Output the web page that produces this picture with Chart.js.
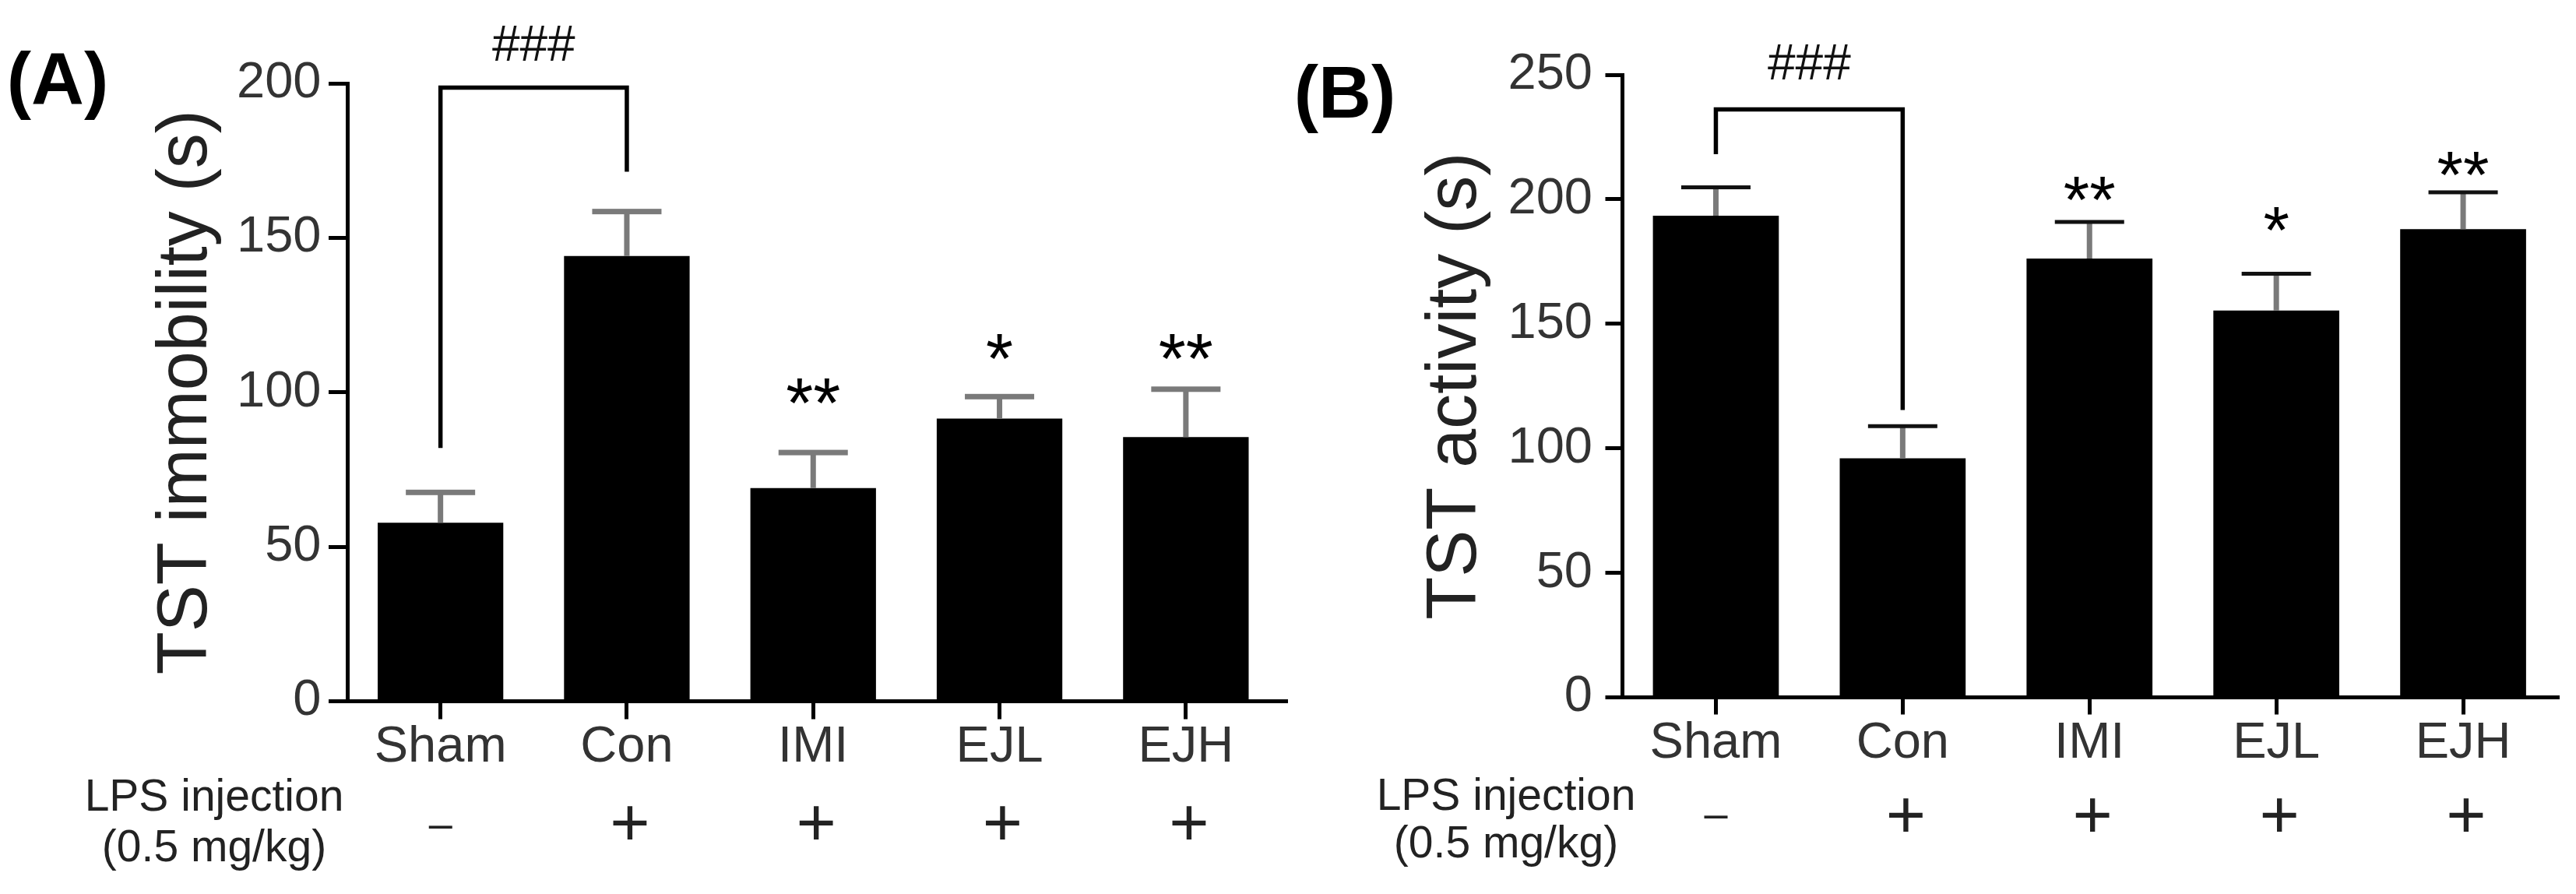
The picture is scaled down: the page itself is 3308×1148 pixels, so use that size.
<!DOCTYPE html>
<html><head><meta charset="utf-8">
<script src="https://cdn.jsdelivr.net/npm/chart.js@4.4.1/dist/chart.umd.min.js"></script>
<style>
html,body{margin:0;padding:0;background:#fff;}
#wrap{position:relative;width:3308px;height:1148px;overflow:hidden;background:#fff;}
canvas{position:absolute;top:0;}
</style></head><body>
<div id="wrap">
<canvas id="cA" width="1654" height="1148" style="left:0;width:1654px;height:1148px"></canvas>
<canvas id="cB" width="1654" height="1148" style="left:1654px;width:1654px;height:1148px"></canvas>
</div>
<script>
// ---------- data ----------
const groups = ['Sham', 'Con', 'IMI', 'EJL', 'EJH'];
const lpsSigns = ['–', '+', '+', '+', '+'];
const lpsLabel = ['LPS injection', '(0.5 mg/kg)'];

const immobilityMean = [57.8, 144.1, 69.0, 91.5, 85.5];
const immobilitySem  = [9.8, 14.4, 11.5, 7.1, 15.5];
const immobilityStars = ['', '', '**', '*', '**'];
const immobilityStarLevel = [null, null, 101.7, 116.1, 116.0];
const immobilityBracket = [0, 1];              // Sham vs Con
const immobilityBracketLevels = [82, 198.6, 171.4, 212.9]; // left end, top, right end, label
const immobilityMax = 200;

const activityMean = [193.4, 96.0, 176.2, 155.3, 188.0];
const activitySem  = [11.4, 12.9, 14.7, 14.8, 14.8];
const activityStars = ['', '', '**', '*', '**'];
const activityStarLevel = [null, null, 205.9, 193.7, 216.1];
const activityBracket = [0, 1];
const activityBracketLevels = [218.1, 236.1, 115.4, 255];
const activityMax = 250;

const FF = "'Liberation Sans', Arial, Helvetica, sans-serif";

function makePanel(id, o) {
  const deco = {
    id: 'deco' + id,
    afterDatasetsDraw(chart) {
      const ctx = chart.ctx;
      const meta = chart.getDatasetMeta(0);
      const ys = chart.scales.y;
      ctx.save();
      meta.data.forEach((bar, i) => {
        const x = bar.x;
        const yb = ys.getPixelForValue(o.means[i]);
        const yc = ys.getPixelForValue(o.means[i] + o.sems[i]);
        ctx.fillStyle = o.stemColor;
        ctx.fillRect(x - o.stemW / 2, yc, o.stemW, yb - yc);
        ctx.fillStyle = o.capColor;
        ctx.fillRect(x - o.capW / 2, yc - o.capH / 2, o.capW, o.capH);
      });
      ctx.restore();
    },
    afterDraw(chart) {
      const ctx = chart.ctx;
      const meta = chart.getDatasetMeta(0);
      const ys = chart.scales.y;
      const area = chart.chartArea;
      ctx.save();
      // x-axis line runs on to the panel edge
      ctx.fillStyle = '#000';
      ctx.fillRect(area.right, area.bottom - 2.5, o.axisEnd - area.right, 5);
      // bracket
      const xL = meta.data[o.bracket[0]].x, xR = meta.data[o.bracket[1]].x;
      const bl = o.bracketLevels;
      ctx.strokeStyle = '#000';
      ctx.lineWidth = 5.5;
      ctx.lineCap = 'butt';
      ctx.lineJoin = 'miter';
      ctx.beginPath();
      ctx.moveTo(xL, ys.getPixelForValue(bl[0]));
      ctx.lineTo(xL, ys.getPixelForValue(bl[1]));
      ctx.lineTo(xR, ys.getPixelForValue(bl[1]));
      ctx.lineTo(xR, ys.getPixelForValue(bl[2]));
      ctx.stroke();
      ctx.fillStyle = '#111';
      ctx.textAlign = 'center';
      ctx.textBaseline = 'alphabetic';
      ctx.font = '64px ' + FF;
      ctx.fillText('###', (xL + xR) / 2, ys.getPixelForValue(bl[3]) + 0.345 * 64);
      // stars
      ctx.fillStyle = '#000';
      ctx.font = o.starSize + 'px ' + FF;
      o.stars.forEach((s, i) => {
        if (!s) return;
        ctx.fillText(s, meta.data[i].x, ys.getPixelForValue(o.starLevel[i]) + 0.575 * o.starSize);
      });
      // panel label
      ctx.fillStyle = '#000';
      ctx.font = 'bold 94px ' + FF;
      ctx.fillText(o.panel, o.panelX, o.panelBase);
      // LPS rows
      ctx.fillStyle = '#222';
      ctx.font = '57px ' + FF;
      ctx.fillText(lpsLabel[0], o.lpsX, o.lpsBase[0]);
      ctx.fillText(lpsLabel[1], o.lpsX, o.lpsBase[1]);
      lpsSigns.forEach((s, i) => {
        const x = meta.data[i].x;
        if (s === '+') {
          ctx.font = '88px ' + FF;
          ctx.fillText(s, x + 4, o.plusBase);
        } else {
          ctx.font = '54px ' + FF;
          ctx.fillText(s, x, o.dashBase);
        }
      });
      ctx.restore();
    }
  };

  return new Chart(document.getElementById(id), {
    type: 'bar',
    data: {
      labels: groups,
      datasets: [{
        data: o.means,
        backgroundColor: '#000',
        borderWidth: 0,
        barPercentage: 0.674,
        categoryPercentage: 1
      }]
    },
    options: {
      responsive: false,
      animation: false,
      devicePixelRatio: 1,
      layout: { padding: { left: 0, top: o.top, right: o.right, bottom: 0 } },
      plugins: { legend: { display: false }, tooltip: { enabled: false }, title: { display: false } },
      scales: {
        x: {
          type: 'category',
          offset: true,
          grid: { display: true, drawOnChartArea: false, drawTicks: true, offset: false,
                  tickLength: o.xTick, tickWidth: 5, tickColor: '#000', color: '#000', lineWidth: 5 },
          border: { display: true, color: '#000', width: 5 },
          ticks: { color: '#333', font: { family: FF, size: 65, lineHeight: 1 }, padding: o.xPad,
                   autoSkip: false, maxRotation: 0, minRotation: 0 },
          afterFit: (s) => { s.height = o.xHeight; }
        },
        y: {
          min: 0, max: o.max,
          grid: { display: true, drawOnChartArea: false, drawTicks: true,
                  tickLength: o.yTick, tickWidth: 5, tickColor: '#000', color: '#000', lineWidth: 5 },
          border: { display: true, color: '#000', width: 5 },
          ticks: { stepSize: 50, color: '#333', font: { family: FF, size: 65 }, padding: o.yPad },
          title: { display: true, text: o.title, color: '#222', font: { family: FF, size: 90 },
                   padding: { top: o.titlePad, bottom: 0 } },
          afterFit: (s) => { s.width = o.yWidth; }
        }
      }
    },
    plugins: [deco]
  });
}

makePanel('cA', {
  means: immobilityMean, sems: immobilitySem, stars: immobilityStars, starLevel: immobilityStarLevel,
  bracket: immobilityBracket, bracketLevels: immobilityBracketLevels, max: immobilityMax,
  title: 'TST immobility (s)', panel: '(A)', panelX: 74, panelBase: 134,
  top: 107, right: 11.5, yWidth: 446, xHeight: 247.5, xTick: 23, yTick: 24, xPad: 4, yPad: 9.5, titlePad: 186,
  stemColor: '#7a7a7a', stemW: 7, capColor: '#7a7a7a', capH: 7, capW: 89, starSize: 90, axisEnd: 1654,
  lpsX: 275, lpsBase: [1041, 1106], plusBase: 1086, dashBase: 1076
});

makePanel('cB', {
  means: activityMean, sems: activitySem, stars: activityStars, starLevel: activityStarLevel,
  bracket: activityBracket, bracketLevels: activityBracketLevels, max: activityMax,
  title: 'TST activity (s)', panel: '(B)', panelX: 73, panelBase: 151,
  top: 96, right: 25, yWidth: 429.5, xHeight: 252.5, xTick: 22, yTick: 22, xPad: 5, yPad: 16.5, titlePad: 162,
  stemColor: '#7a7a7a', stemW: 7, capColor: '#111', capH: 5, capW: 89, starSize: 86, axisEnd: 1633,
  lpsX: 280, lpsBase: [1040, 1101], plusBase: 1076, dashBase: 1063
});
</script>
</body></html>
